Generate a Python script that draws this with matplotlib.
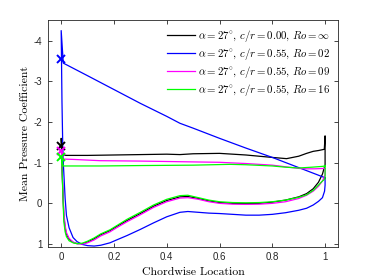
import matplotlib
matplotlib.use("Agg")
import matplotlib.pyplot as plt

plt.rcParams["mathtext.fontset"] = "cm"
plt.rcParams["axes.unicode_minus"] = False

# chordwise stations and pressure coefficients
# upper surface runs LE -> TE, lower surface LE -> TE
black_up_x = [0.0, 0.002, 0.008, 0.02, 0.05, 0.1, 0.2, 0.3, 0.4, 0.45, 0.5, 0.6, 0.7, 0.75, 0.8,
              0.854, 0.9, 0.93, 0.955, 0.975, 0.997, 1.0]
black_up_cp = [-1.6, -1.3, -1.19, -1.18, -1.18, -1.18, -1.19, -1.2, -1.21, -1.2, -1.22, -1.23, -1.19,
               -1.16, -1.13, -1.1, -1.16, -1.23, -1.28, -1.3, -1.33, -1.65]

lo_x = [0.001, 0.003, 0.006, 0.01, 0.015, 0.02, 0.03, 0.045, 0.06, 0.08, 0.1, 0.125, 0.15, 0.185,
        0.21, 0.25, 0.3, 0.35, 0.4, 0.45, 0.48, 0.52, 0.56, 0.6, 0.65, 0.7, 0.75, 0.8, 0.85, 0.9,
        0.93, 0.955, 0.975, 0.99, 1.0]
black_lo_cp = [-1.42, -0.9, -0.35, 0.3, 0.6, 0.76, 0.88, 0.96, 0.99, 0.99, 0.95, 0.87, 0.77, 0.67,
               0.57, 0.42, 0.25, 0.07, -0.07, -0.16, -0.17, -0.12, -0.06, -0.02, 0.0, 0.005, 0.0,
               -0.03, -0.08, -0.16, -0.24, -0.36, -0.52, -0.72, -0.95]

blue_up_x = [0.0, 0.008, 0.1, 0.2, 0.3, 0.4, 0.45, 0.5, 0.6, 0.7, 0.8, 0.9, 1.0]
blue_up_cp = [-4.25, -3.45, -3.14, -2.8, -2.46, -2.14, -1.97, -1.85, -1.6, -1.36, -1.13, -0.88, -0.63]
blue_lo_x = [0.003, 0.006, 0.008, 0.01, 0.015, 0.02, 0.03, 0.045, 0.06, 0.08, 0.1, 0.125, 0.15,
             0.185, 0.21, 0.25, 0.3, 0.35, 0.4, 0.45, 0.48, 0.52, 0.56, 0.6, 0.65, 0.7, 0.75, 0.8,
             0.85, 0.9, 0.93, 0.955, 0.975, 0.99, 0.998, 1.0]
blue_lo_cp = [-2.5, -1.4, -1.0, -0.75, -0.12, 0.3, 0.6, 0.84, 0.94, 1.01, 1.04, 1.05, 1.03, 0.97,
              0.9, 0.79, 0.64, 0.48, 0.33, 0.22, 0.2, 0.22, 0.24, 0.25, 0.27, 0.29, 0.29, 0.27,
              0.23, 0.17, 0.12, 0.04, -0.05, -0.14, -0.3, -0.45]

magenta_up_x = [0.0, 0.008, 0.05, 0.147, 0.3, 0.5, 0.6, 0.7, 0.8, 0.85, 0.9, 0.93, 0.96, 1.0]
magenta_up_cp = [-1.28, -1.09, -1.08, -1.05, -1.04, -1.02, -1.01, -0.98, -0.94, -0.9, -0.86, -0.85,
                 -0.85, -0.86]
magenta_lo_cp = [-1.28, -0.9, -0.4, 0.2, 0.55, 0.72, 0.86, 0.95, 0.99, 1.0, 0.97, 0.9, 0.8, 0.7,
                 0.6, 0.45, 0.28, 0.1, -0.04, -0.13, -0.14, -0.1, -0.04, 0.0, 0.02, 0.025, 0.02,
                 0.0, -0.04, -0.12, -0.2, -0.3, -0.42, -0.55, -0.7]

green_up_x = [0.0, 0.008, 0.05, 0.15, 0.3, 0.5, 0.64, 0.7, 0.8, 0.85, 0.9, 0.95, 0.99, 1.0]
green_up_cp = [-1.13, -0.92, -0.92, -0.92, -0.93, -0.94, -0.96, -0.95, -0.92, -0.89, -0.87, -0.89,
               -0.91, -0.92]
green_lo_cp = [-1.13, -0.9, -0.3, 0.45, 0.7, 0.82, 0.92, 0.97, 0.99, 0.98, 0.93, 0.85, 0.75, 0.65,
               0.55, 0.39, 0.22, 0.04, -0.1, -0.19, -0.2, -0.14, -0.08, -0.04, -0.02, -0.015,
               -0.02, -0.04, -0.08, -0.15, -0.21, -0.32, -0.45, -0.55, -0.6]

le_cp = [-1.42, -3.55, -1.28, -1.13]   # leading-edge marker values
colors = ["k", "#0000ff", "#ff00ff", "#00ff00"]
labels = [r"$\alpha = 27^{\circ},\, c/r = 0.00,\, Ro = \infty$",
          r"$\alpha = 27^{\circ},\, c/r = 0.55,\, Ro = 02$",
          r"$\alpha = 27^{\circ},\, c/r = 0.55,\, Ro = 09$",
          r"$\alpha = 27^{\circ},\, c/r = 0.55,\, Ro = 16$"]

series = [
    (black_up_x, black_up_cp, lo_x, black_lo_cp),
    (blue_up_x, blue_up_cp, blue_lo_x, blue_lo_cp),
    (magenta_up_x, magenta_up_cp, lo_x, magenta_lo_cp),
    (green_up_x, green_up_cp, lo_x, green_lo_cp),
]

fig = plt.figure(figsize=(3.74, 2.8), dpi=100)
ax = fig.add_axes([0.1283, 0.1189, 0.7762, 0.8096])

handles = []
for (ux, ucp, lx, lcp), c, lab in zip(series, colors, labels):
    # closed loop: TE upper -> LE -> TE lower -> back to TE upper
    xs = ux[::-1] + lx + [ux[-1]]
    ys = ucp[::-1] + lcp + [ucp[-1]]
    h, = ax.plot(xs, ys, color=c, lw=0.9, label=lab)
    handles.append(h)
for cp, c in zip(le_cp, colors):
    ax.plot([0.0], [cp], ls="none", marker="x", ms=5.5, mew=1.4, color=c)

ax.set_xlim(-0.05, 1.05)
ax.set_ylim(1.066, -4.51)
ax.set_xticks([0, 0.2, 0.4, 0.6, 0.8, 1])
ax.set_xticklabels(["0", "0.2", "0.4", "0.6", "0.8", "1"])
ax.set_yticks([-4, -3, -2, -1, 0, 1])
ax.set_yticklabels(["-4", "-3", "-2", "-1", "0", "1"])
ax.tick_params(direction="in", length=3, width=0.6, top=True, right=True,
               labelsize=7, colors="#262626", pad=4)
for lab in ax.get_xticklabels() + ax.get_yticklabels():
    lab.set_fontfamily("Liberation Sans")
for s in ax.spines.values():
    s.set_linewidth(0.6)
    s.set_color("#262626")

ax.set_xlabel("Chordwise Location", fontfamily="cmr10", fontsize=8.5, labelpad=4)
ax.set_ylabel("Mean Pressure Coefficient", fontfamily="cmr10", fontsize=8.5, labelpad=3)

ax.legend(handles=handles, loc="upper right", bbox_to_anchor=(1.0, 1.0), frameon=False,
          fontsize=7.8, handlelength=2.6, handletextpad=0.3, labelspacing=0.2,
          borderaxespad=0.3)

fig.savefig("out.png", dpi=100)
